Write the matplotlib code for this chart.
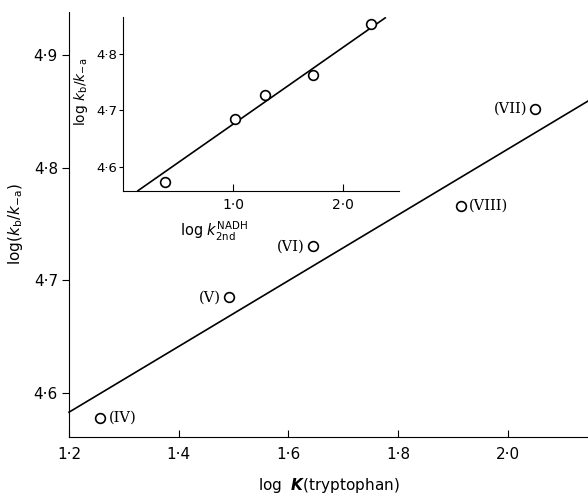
import matplotlib
matplotlib.use("Agg")
import matplotlib.pyplot as plt
from matplotlib.ticker import FixedLocator

plt.rcParams['font.family'] = 'DejaVu Sans'
plt.rcParams['mathtext.fontset'] = 'dejavusans'

# main plot: log K (tryptophan) vs log(kb/k-a)
main_x = [1.257, 1.492, 1.645, 2.050, 1.914]
main_y = [4.578, 4.685, 4.730, 4.852, 4.766]
main_labels = ["(IV)", "(V)", "(VI)", "(VII)", "(VIII)"]
main_fit_x = [1.2, 2.146]
main_fit_y = [4.583, 4.859]
main_xticks = [1.2, 1.4, 1.6, 1.8, 2.0]
main_yticks = [4.6, 4.7, 4.8, 4.9]

# inset: log k2nd(NADH) vs log kb/k-a
ins_x = [0.379, 1.015, 1.288, 1.727, 2.258]
ins_y = [4.574, 4.684, 4.726, 4.763, 4.852]
ins_fit_x = [0.136, 2.385]
ins_fit_y = [4.558, 4.863]
ins_xticks = [1.0, 2.0]
ins_yticks = [4.6, 4.7, 4.8]


def dot_fmt(v):
    return f"{v:.1f}".replace(".", "·")


fig = plt.figure(figsize=(5.88, 4.98), dpi=100)
ax = fig.add_axes([69/588, 1 - 437/498, 1 - 69/588, (437 - 12)/498])

ax.plot(main_fit_x, main_fit_y, color="black", lw=1.2, clip_on=False)
ax.plot(main_x, main_y, "o", mfc="white", mec="black", mew=1.2, ms=7)

offsets = {"(IV)": (6, "left"), "(V)": (-6, "right"), "(VI)": (-6, "right"),
           "(VII)": (-6, "right"), "(VIII)": (6, "left")}
for x, y, lab in zip(main_x, main_y, main_labels):
    dx, ha = offsets[lab]
    ax.annotate(lab, (x, y), xytext=(dx, 0), textcoords="offset points",
                ha=ha, va="center", fontsize=10.5, family="DejaVu Serif")

ax.set_xlim(1.2, 2.146)
ax.set_ylim(4.561, 4.938)
ax.xaxis.set_major_locator(FixedLocator(main_xticks))
ax.yaxis.set_major_locator(FixedLocator(main_yticks))
ax.set_xticklabels([dot_fmt(v) for v in main_xticks], fontsize=11)
ax.set_yticklabels([dot_fmt(v) for v in main_yticks], fontsize=11)
ax.tick_params(axis="x", direction="in", length=5, pad=7)
ax.tick_params(axis="y", direction="out", length=5, pad=3)
for s in ["top", "right"]:
    ax.spines[s].set_visible(False)
ax.set_xlabel(r"log  $\boldsymbol{K}$(tryptophan)", fontsize=11, labelpad=10)
ax.set_ylabel(r"log$(\mathit{k}_{\mathrm{b}}/\mathit{k}_{-\mathrm{a}})$", fontsize=11, labelpad=6)

# inset
ins = fig.add_axes([123/588, 1 - 190.7/498, (399 - 123)/588, (190.7 - 16.7)/498])
ins.patch.set_alpha(0)
ins.plot(ins_fit_x, ins_fit_y, color="black", lw=1.2)
ins.plot(ins_x, ins_y, "o", mfc="white", mec="black", mew=1.2, ms=7)
ins.set_xlim(0, 2.51)
ins.set_ylim(4.558, 4.865)
ins.xaxis.set_major_locator(FixedLocator(ins_xticks))
ins.yaxis.set_major_locator(FixedLocator(ins_yticks))
ins.set_xticklabels([dot_fmt(v) for v in ins_xticks], fontsize=10)
ins.set_yticklabels([dot_fmt(v) for v in ins_yticks], fontsize=9.5)
ins.tick_params(axis="x", direction="in", length=5, pad=5)
ins.tick_params(axis="y", direction="out", length=3, pad=1)
for s in ["top", "right"]:
    ins.spines[s].set_visible(False)
ins.set_xlabel(r"log $\mathit{k}_{\mathrm{2nd}}^{\mathrm{NADH}}$", fontsize=10.5)
ins.xaxis.set_label_coords(0.33, -0.17)
ins.set_ylabel(r"log $\mathit{k}_{\mathrm{b}}/\mathit{k}_{-\mathrm{a}}$", fontsize=10)
ins.yaxis.set_label_coords(-0.12, 0.57)

fig.savefig("out.png", dpi=100)
